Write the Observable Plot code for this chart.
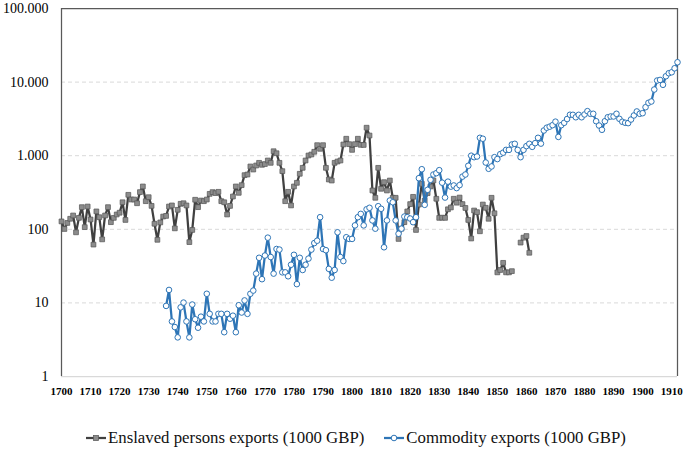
<!DOCTYPE html>
<html>
<head>
<meta charset="utf-8">
<script src="https://cdn.jsdelivr.net/npm/d3@7"></script>
<script src="https://cdn.jsdelivr.net/npm/@observablehq/plot@0.6"></script>
<style>
  html, body { margin: 0; padding: 0; background: #fff; }
  #wrap { position: relative; width: 685px; height: 451px; overflow: hidden; }
  #legend { position: absolute; top: 428px; left: 86px; display: flex; align-items: center;
            font-family: "Liberation Serif", "Tinos", "DejaVu Serif", serif; font-size: 16.8px; color: #111; white-space: nowrap; }
  .item { display: flex; align-items: center; }
  .item svg { margin-right: 2px; }
  .item + .item { margin-left: 20px; }
</style>
</head>
<body>
<div id="wrap">
  <div id="chart"></div>
  <div id="legend"></div>
</div>
<script>
// ---- data ----
const enslavedYears = d3.range(1700, 1862);
const enslavedValues = [
  128,101,122,139,154,91,143,200,107,204,          // 1700-1709
  136,62,175,146,73,154,200,125,143,159,           // 1710-1719
  168,233,134,294,254,254,226,320,382,241,         // 1720-1729
  273,208,119,72,124,149,152,204,211,103,          // 1730-1739
  184,222,226,211,67,98,252,200,246,241,           // 1740-1749
  254,303,320,310,323,241,233,159,208,279,         // 1750-1759
  382,313,398,544,555,714,649,736,800,752,         // 1760-1769
  770,861,800,1150,1080,800,617,241,323,211,       // 1770-1779
  382,428,568,684,861,1006,1038,1130,1390,1240,    // 1780-1789
  1390,684,475,460,800,834,861,1420,1700,1435,     // 1790-1799
  1200,1435,1700,1405,1400,2400,1880,337,268,684,  // 1800-1809
  355,437,337,460,268,268,74,102,125,175,          // 1810-1819
  220,276,98,217,415,246,310,382,460,260,          // 1820-1829
  143,144,143,187,198,260,230,270,220,195,         // 1830-1839
  134,75,180,171,94,217,196,139,268,165,           // 1840-1849
  26,28,35,26,26,27,null,null,66,77,               // 1850-1859
  81,48                                            // 1860-1861
];

const commodityYears = d3.range(1736, 1913);
const commodityValues = [
  9.1,15,5.6,4.7,                                  // 1736-1739
  3.4,8.7,10.1,5.6,3.4,9.5,6,4.6,6.5,5.6,          // 1740-1749
  13.3,7.1,5.6,5.6,7.1,7.1,4.0,7.1,6.1,6.7,        // 1750-1759
  4.0,9.3,7.4,10.8,7.1,13.3,14.7,25,41,21,         // 1760-1769
  44,77,42,25,54,53,26,26,23,33,                   // 1770-1779
  45,18,41,28,33,40,53,65,70,146,                  // 1780-1789
  54,52,29,22,28,91,42,37,78,74,                   // 1790-1799
  74,113,146,162,113,187,196,132,102,206,          // 1800-1809
  190,57,132,246,233,132,87,102,149,146,           // 1810-1819
  140,125,146,495,655,215,344,470,555,579,         // 1820-1829
  636,430,270,444,380,394,363,398,520,555,         // 1830-1839
  730,1000,955,975,1750,1700,808,664,714,955,      // 1840-1849
  900,1050,1100,1200,1200,1420,1450,1200,955,1200, // 1850-1859
  1350,1450,1320,1480,1750,1460,2200,2400,2480,2600, // 1860-1869
  2900,1800,2600,2800,3150,3600,3590,3330,3590,3330, // 1870-1879
  3630,4030,3710,3710,2940,2570,2250,2940,3330,3410, // 1880-1889
  3410,3710,3170,2890,2800,2770,3100,3520,3990,3710, // 1890-1899
  3780,4560,5230,5450,7930,10500,10700,9190,12000,13200, // 1900-1909
  13600,15400,18600                                // 1910-1912
];

const xTicks = d3.range(1700, 1911, 10);
const yTicks = [1, 10, 100, 1000, 10000, 100000];
const gridTicks = [10, 100, 1000, 10000];

const enslaved = enslavedYears.map((year, i) => ({year, value: enslavedValues[i]}));
const commodity = commodityYears.map((year, i) => ({year, value: commodityValues[i]}));

const locale = d3.formatLocale({decimal: ",", thousands: ".", grouping: [3], currency: ["", ""]});
const fmtY = locale.format(",");

const GRAY_LINE = "#404040", GRAY_FILL = "#8c8c8c", GRAY_EDGE = "#595959";
const BLUE = "#2e75b6";
const FONT = "Liberation Serif, Tinos, DejaVu Serif, serif";

const chart = Plot.plot({
  width: 685,
  height: 405,
  marginLeft: 61,
  marginRight: 8,
  marginTop: 8,
  marginBottom: 29,
  style: {fontFamily: FONT, background: "white", color: "#000"},
  x: {domain: [1700, 1912]},
  y: {type: "log", domain: [1, 100000]},
  marks: [
    Plot.ruleY(gridTicks, {stroke: "#d9d9d9", strokeDasharray: "4,3", strokeWidth: 1}),
    Plot.ruleY([1], {stroke: "#d9d9d9", strokeWidth: 1.25}),
    Plot.ruleY([100000], {stroke: "#595959", strokeWidth: 1.25}),
    Plot.ruleX([1700, 1912], {stroke: "#595959", strokeWidth: 1.25}),
    Plot.line(enslaved, {x: "year", y: "value", stroke: GRAY_LINE, strokeWidth: 2.25, defined: d => d.value != null}),
    Plot.dot(enslaved.filter(d => d.value != null), {x: "year", y: "value", symbol: "square", r: 2.7, fill: GRAY_FILL, stroke: GRAY_EDGE, strokeWidth: 0.75}),
    Plot.line(commodity, {x: "year", y: "value", stroke: BLUE, strokeWidth: 2.25}),
    Plot.dot(commodity, {x: "year", y: "value", symbol: "circle", r: 2.8, fill: "white", stroke: BLUE, strokeWidth: 1}),
    Plot.axisX({ticks: xTicks, tickFormat: d => String(d), tickSize: 0, tickPadding: 11, fontSize: 11, fontWeight: "bold", fontFamily: FONT, label: null}),
    Plot.axisY({ticks: yTicks, tickFormat: fmtY, tickSize: 0, tickPadding: 13, fontSize: 14, fontFamily: FONT, label: null})
  ]
});
document.getElementById("chart").appendChild(chart);

// legend (HTML, below the SVG)
const legendItems = [
  {label: "Enslaved persons exports (1000 GBP)", line: GRAY_LINE, kind: "square"},
  {label: "Commodity exports (1000 GBP)", line: BLUE, kind: "circle"}
];
const legend = document.getElementById("legend");
for (const it of legendItems) {
  const item = document.createElement("div");
  item.className = "item";
  const marker = it.kind === "square"
    ? `<rect x="7.5" y="2.5" width="5" height="5" fill="${GRAY_FILL}" stroke="${GRAY_EDGE}" stroke-width="0.75"/>`
    : `<circle cx="10" cy="5" r="2.8" fill="white" stroke="${BLUE}" stroke-width="1"/>`;
  item.innerHTML = `<svg width="20" height="10"><line x1="0" y1="5" x2="20" y2="5" stroke="${it.line}" stroke-width="2.25"/>${marker}</svg><span>${it.label}</span>`;
  legend.appendChild(item);
}
</script>
</body>
</html>
